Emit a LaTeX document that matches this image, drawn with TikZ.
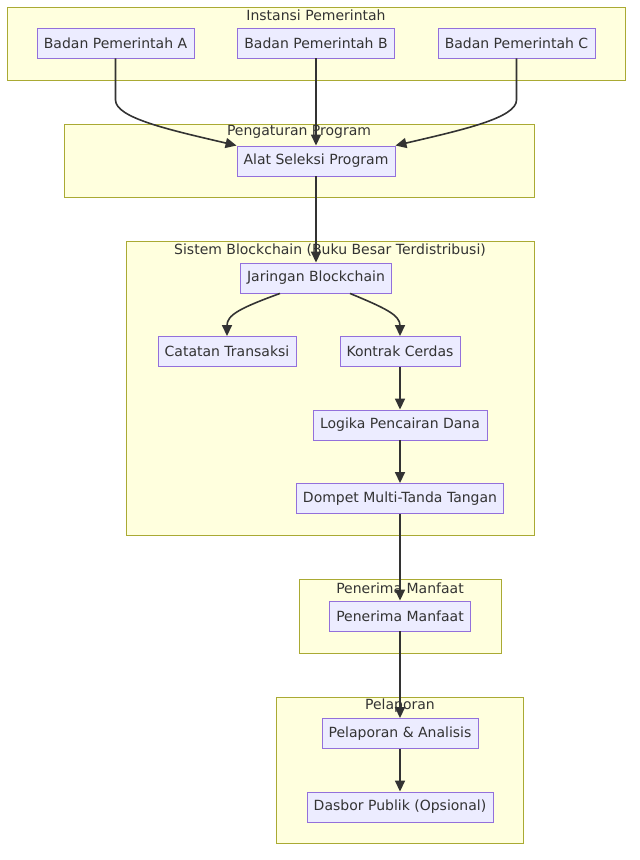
\documentclass[tikz,border=0pt]{standalone}
\usepackage{fontspec}
\setmainfont{DejaVu Sans}
\usetikzlibrary{arrows.meta}
\definecolor{clfill}{HTML}{FFFFDE}
\definecolor{cldraw}{HTML}{AAAA33}
\definecolor{ndfill}{HTML}{ECECFF}
\definecolor{nddraw}{HTML}{9370DB}
\definecolor{txt}{HTML}{333333}
\begin{document}
\begin{tikzpicture}[x=1pt,y=-1pt,
  cluster/.style={draw=cldraw,fill=clfill,line width=0.9pt},
  cltitle/.style={text=txt,font=\fontsize{14}{16}\selectfont,inner sep=0pt,anchor=center},
  box/.style={draw=nddraw,fill=ndfill,line width=0.9pt,text=txt,font=\fontsize{14}{16}\selectfont,inner sep=0pt,minimum height=30pt,anchor=center},
  edge/.style={draw=txt,line width=1.6pt,-{Triangle[length=11pt,width=10pt]}}]
\useasboundingbox (0,0) rectangle (640,860);
% clusters
\draw[cluster] (7,7) rectangle (625,80);
\node[cltitle] (t1) at (316,15) {Instansi Pemerintah};
\draw[cluster] (64,124) rectangle (534,197);
\node[cltitle] (t2) at (299,132) {Pengaturan Program};
\draw[cluster] (126,241) rectangle (534,535);
\node[cltitle] (t3) at (330,250) {Sistem Blockchain (Buku Besar Terdistribusi)};
\draw[cluster] (299,579) rectangle (501,653);
\node[cltitle] (t4) at (400,588) {Penerima Manfaat};
\draw[cluster] (276,697) rectangle (523,843);
\node[cltitle] (t5) at (400,706) {Pelaporan};
% nodes
\node[box,minimum width=157pt] (a) at (115.5,43) {Badan Pemerintah A};
\node[box,minimum width=157pt] (b) at (316,43) {Badan Pemerintah B};
\node[box,minimum width=157pt] (c) at (516.5,43) {Badan Pemerintah C};
\node[box,minimum width=158pt] (alat) at (316,161) {Alat Seleksi Program};
\node[box,minimum width=151pt] (jar) at (316,278) {Jaringan Blockchain};
\node[box,minimum width=138pt] (cat) at (227,351.5) {Catatan Transaksi};
\node[box,minimum width=120pt] (kon) at (400,351.5) {Kontrak Cerdas};
\node[box,minimum width=174pt] (log) at (400,425) {Logika Pencairan Dana};
\node[box,minimum width=207pt] (dom) at (400,498.5) {Dompet Multi-Tanda Tangan};
\node[box,minimum width=141pt] (pen) at (400,616) {Penerima Manfaat};
\node[box,minimum width=156pt] (pel) at (400,733.5) {Pelaporan \& Analisis};
\node[box,minimum width=186pt] (das) at (400,807) {Dasbor Publik (Opsional)};
% edges
\draw[edge] (a.south) -- (115.5,100) .. controls (115.5,118) and (170,130) .. (alat.north west);
\draw[edge] (b.south) -- (alat.north);
\draw[edge] (c.south) -- (516.5,100) .. controls (516.5,118) and (462,130) .. (alat.north east);
\draw[edge] (alat.south) -- (jar.north);
\draw[edge] ([xshift=-36pt]jar.south) .. controls (240,308) and (227,315) .. (cat.north);
\draw[edge] ([xshift=34pt]jar.south) .. controls (385,308) and (400,315) .. (kon.north);
\draw[edge] (kon.south) -- (log.north);
\draw[edge] (log.south) -- (dom.north);
\draw[edge] (dom.south) -- (pen.north);
\draw[edge] (pen.south) -- (pel.north);
\draw[edge] (pel.south) -- (das.north);
\end{tikzpicture}
\end{document}
